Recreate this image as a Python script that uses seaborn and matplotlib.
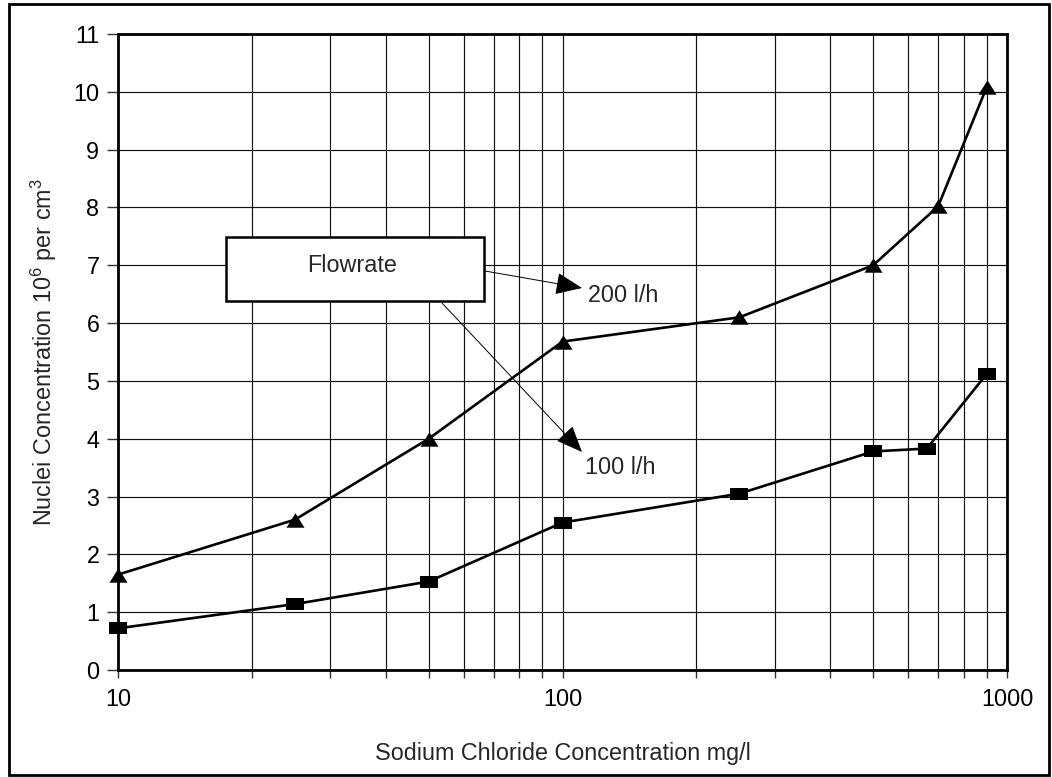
import matplotlib
matplotlib.use("Agg")
import matplotlib.pyplot as plt
from matplotlib.patches import Rectangle
from matplotlib.path import Path
from matplotlib.ticker import LogLocator, NullFormatter, FixedLocator, FixedFormatter
import seaborn as sns
import pandas as pd

# Sodium chloride concentration (mg/l) and nuclei concentration (10^6 per cm^3)
nacl_200 = [10, 25, 50, 100, 250, 500, 700, 900]
nuclei_200 = [1.65, 2.6, 4.0, 5.68, 6.1, 7.0, 8.02, 10.08]

nacl_100 = [10, 25, 50, 100, 250, 500, 660, 900]
nuclei_100 = [0.72, 1.14, 1.53, 2.55, 3.05, 3.78, 3.83, 5.12]

x_ticks = [10, 100, 1000]
x_tick_labels = ["10", "100", "1000"]
y_ticks = list(range(0, 12))

FS = 16.8

sns.set_style("ticks")
plt.rcParams["font.family"] = ["Liberation Sans", "DejaVu Sans"]
plt.rcParams["mathtext.fontset"] = "custom"
plt.rcParams["mathtext.rm"] = "Liberation Sans"

W, H = 1052, 777
fig = plt.figure(figsize=(W / 100, H / 100), dpi=100)
ax = fig.add_axes([118 / W, 1 - 670 / H, (1007 - 118) / W, (670 - 34) / H])

df200 = pd.DataFrame({"nacl": nacl_200, "nuclei": nuclei_200})
df100 = pd.DataFrame({"nacl": nacl_100, "nuclei": nuclei_100})

tri = Path([(0, 0.8), (-1, -0.8), (1, -0.8), (0, 0.8)], closed=True)
rect = Path([(-1, -0.68), (1, -0.68), (1, 0.68), (-1, 0.68), (-1, -0.68)], closed=True)

sns.lineplot(data=df200, x="nacl", y="nuclei", ax=ax, color="black", lw=1.9,
             marker=tri, markersize=13, markeredgewidth=0, markerfacecolor="black",
             zorder=5, clip_on=False)
sns.lineplot(data=df100, x="nacl", y="nuclei", ax=ax, color="black", lw=1.9,
             marker=rect, markersize=13, markeredgewidth=0, markerfacecolor="black",
             zorder=5, clip_on=False)

ax.set_xscale("log")
ax.set_xlim(10, 1000)
ax.set_ylim(0, 11)

ax.xaxis.set_major_locator(FixedLocator(x_ticks))
ax.xaxis.set_major_formatter(FixedFormatter(x_tick_labels))
ax.xaxis.set_minor_locator(LogLocator(base=10, subs=range(2, 10)))
ax.xaxis.set_minor_formatter(NullFormatter())
ax.set_yticks(y_ticks)

ax.grid(True, which="major", axis="both", color="#111111", lw=0.85)
ax.grid(True, which="minor", axis="x", color="#111111", lw=0.85)
ax.set_axisbelow(True)

for s in ax.spines.values():
    s.set_linewidth(2.0)
    s.set_color("black")

ax.tick_params(axis="both", which="major", direction="out", length=6, width=1,
               color="#333333", labelsize=FS, labelcolor="black")
ax.tick_params(axis="x", which="major", pad=7)
ax.tick_params(axis="y", which="major", pad=5.5, length=8)
ax.tick_params(axis="x", which="minor", direction="out", length=6, width=1, color="#333333")

ax.set_xlabel("Sodium Chloride Concentration mg/l", fontsize=FS, labelpad=22)
ax.set_ylabel("Nuclei Concentration 10$^{6}$ per cm$^{3}$", fontsize=FS, labelpad=10)

# Callout box with arrows pointing to the two series labels
def fx(px):
    return (px - 118) / (1007 - 118)

def fy(py):
    return (670 - py) / (670 - 34)

ax.add_patch(Rectangle((fx(226), fy(301)), fx(484) - fx(226), fy(237) - fy(301),
                       transform=ax.transAxes, facecolor="white", edgecolor="black",
                       lw=1.8, zorder=6))
ax.text(fx(352), fy(266), "Flowrate", transform=ax.transAxes, ha="center",
        va="center", fontsize=FS, zorder=7)

arrow_kw = dict(arrowstyle="-|>,head_length=1.2,head_width=0.5", lw=0.7,
                color="black", shrinkA=0, shrinkB=0, mutation_scale=14)
ax.annotate("", xy=(fx(582), fy(288)), xytext=(fx(485), fy(271)),
            xycoords="axes fraction", textcoords="axes fraction",
            arrowprops=arrow_kw, zorder=7)
ax.annotate("", xy=(fx(582), fy(452)), xytext=(fx(442), fy(303)),
            xycoords="axes fraction", textcoords="axes fraction",
            arrowprops=arrow_kw, zorder=7)
ax.text(fx(588), fy(295), "200 l/h", transform=ax.transAxes, ha="left",
        va="center", fontsize=FS, zorder=7)
ax.text(fx(585), fy(468), "100 l/h", transform=ax.transAxes, ha="left",
        va="center", fontsize=FS, zorder=7)

# Outer frame around the whole figure
fig.add_artist(Rectangle((9 / W, 2 / H), (1049 - 9) / W, (774 - 3) / H,
                         transform=fig.transFigure, fill=False, lw=2,
                         edgecolor="black"))

fig.savefig("out.png", dpi=100, facecolor="white")
